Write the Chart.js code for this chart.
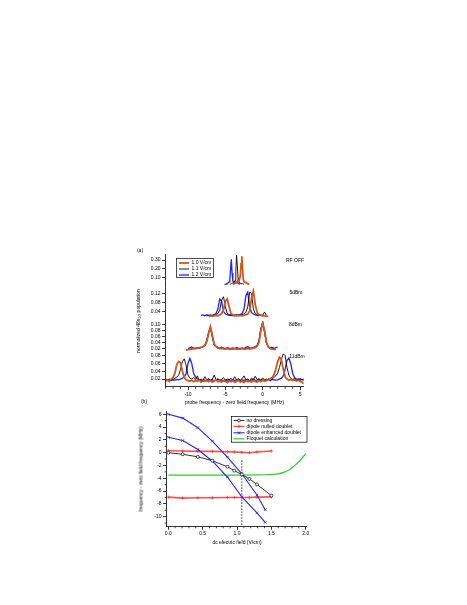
<!DOCTYPE html>
<html>
<head>
<meta charset="utf-8">
<script src="https://cdn.jsdelivr.net/npm/chart.js@4.4.0/dist/chart.umd.min.js"></script>
<style>
  html, body { margin: 0; padding: 0; background: #fff; }
  body { width: 467px; height: 605px; position: relative; overflow: hidden;
         font-family: 'Liberation Sans', Arial, sans-serif; color: #000; }
  canvas { position: absolute; }
  .lbl { position: absolute; font-size: 5px; line-height: 1; white-space: nowrap;
         transform: translate(-50%, -50%); }
  .rot { transform: translate(-50%, -50%) rotate(-90deg); }
  .lbl sub { font-size: 3.6px; vertical-align: -1px; }
  svg.legend { position: absolute; overflow: visible; }
  svg.legend text { font-size: 5px; font-family: 'Liberation Sans', Arial, sans-serif; }
</style>
</head>
<body>
<script>
/* (a) probe spectra at three dc fields, four RF powers */

const SERIES_LABELS = ['1.0 V/cm', '1.1 V/cm', '1.2 V/cm'];
const SERIES_COLORS = ['#d4581c', '#000000', '#1f23ff'];
const SERIES_WIDTHS = [1.8, 0.9, 1.3];

// RF OFF
const rfOffFreq = [-5.1,-5.0,-4.9,-4.8,-4.7,-4.6,-4.5,-4.4,-4.3,-4.2,-4.1,-4.0,-3.9,-3.8,-3.7,-3.6,-3.5,-3.4,
  -3.3,-3.2,-3.1,-3.0,-2.9,-2.8,-2.7,-2.6,-2.5,-2.4,-2.3,-2.2,-2.1,-2.0,-1.9,-1.8];
const rfOff10 = [null,null,null,null,null,null,null,null,null,null,null,0.02,0.025,0.03,0.035,0.04,0.05,0.06,
  0.07,0.065,0.08,0.12,0.26,0.345,0.2,0.08,0.05,0.045,0.04,0.04,0.035,0.03,0.028,0.025];
const rfOff11 = [null,null,null,null,null,null,null,0.022,0.025,0.03,0.035,0.035,0.04,0.045,0.07,0.17,0.355,0.24,
  0.09,0.05,0.04,0.035,0.03,0.03,0.028,0.025,0.022,null,null,null,null,null,null,null];
const rfOff12 = [0.02,0.022,0.025,0.03,0.035,0.04,0.05,0.08,0.2,0.31,0.15,0.06,0.05,0.045,0.05,0.04,0.045,0.04,
  0.035,0.03,0.028,0.025,null,null,null,null,null,null,null,null,null,null,null,null];

// 5 dBm
const dbm5Freq = [-8.25,-8,-7.75,-7.5,-7.25,-7,-6.75,-6.5,-6.25,-6,-5.75,-5.5,-5.25,-5,-4.75,-4.5,-4.25,-4,
  -3.75,-3.5,-3.25,-3,-2.75,-2.5,-2.25,-2,-1.75,-1.5,-1.25,-1,-0.75,-0.5,-0.25,0,0.25,0.5,0.75];
const dbm5_10 = [null,null,null,null,0.018,0.02,0.019,0.02,0.022,0.02,0.025,0.03,0.045,0.085,0.095,0.06,0.03,0.024,
  0.02,0.022,0.02,0.022,0.02,0.023,0.025,0.028,0.04,0.1,0.13,0.07,0.035,0.025,0.022,0.02,0.02,0.018,0.017];
const dbm5_11 = [null,null,null,0.02,0.022,0.021,0.023,0.022,0.025,0.03,0.045,0.09,0.105,0.06,0.03,0.025,0.022,0.022,
  0.024,0.02,0.022,0.024,0.025,0.028,0.035,0.06,0.125,0.12,0.05,0.03,0.025,0.022,0.024,0.022,0.037,0.021,null];
const dbm5_12 = [0.022,0.024,0.02,0.025,0.022,0.024,0.02,0.026,0.03,0.05,0.095,0.085,0.04,0.028,0.025,0.022,0.024,0.02,
  0.022,0.025,0.023,0.026,0.03,0.05,0.11,0.125,0.06,0.035,0.028,0.024,0.022,0.02,null,null,null,null,null];

// 8 dBm
const dbm8Freq = [-10.5,-10.25,-10,-9.75,-9.5,-9.25,-9,-8.75,-8.5,-8.25,-8,-7.75,-7.5,-7.25,-7,-6.75,-6.5,-6.25,
  -6,-5.75,-5.5,-5.25,-5,-4.75,-4.5,-4.25,-4,-3.75,-3.5,-3.25,-3,-2.75,-2.5,-2.25,-2,-1.75,-1.5,-1.25,-1,-0.75,
  -0.5,-0.25,0,0.25,0.5,0.75,1,1.25,1.5,1.75,2];
const dbm8_10 = [null,0.015,0.016,0.017,0.018,0.02,0.019,0.021,0.022,0.024,0.026,0.03,0.042,0.07,0.093,0.065,0.035,
  0.026,0.022,0.02,0.021,0.019,0.018,0.02,0.017,0.019,0.018,0.02,0.017,0.019,0.018,0.02,0.018,0.019,0.02,0.018,0.02,
  0.021,0.023,0.028,0.04,0.08,0.105,0.08,0.04,0.025,0.02,0.018,0.017,0.018,null];
const dbm8_11 = [null,null,null,0.018,0.02,0.019,0.021,0.02,0.022,0.023,0.025,0.03,0.045,0.072,0.09,0.06,0.033,
  0.025,0.021,0.02,0.019,0.021,0.018,0.02,0.019,0.018,0.02,0.019,0.021,0.018,0.02,0.019,0.02,0.018,0.021,0.019,0.02,
  0.022,0.024,0.03,0.045,0.085,0.11,0.075,0.038,0.024,0.02,0.019,0.02,null,null];
const dbm8_12 = [null,null,0.02,0.022,0.025,0.021,0.02,0.023,0.021,0.024,0.026,0.03,0.045,0.07,0.09,0.062,0.033,
  0.027,0.024,0.022,0.024,0.021,0.02,0.023,0.021,0.02,0.022,0.02,0.023,0.021,0.02,0.022,0.02,0.024,0.026,0.022,0.021,
  0.023,0.026,0.03,0.045,0.085,0.103,0.075,0.04,0.026,0.022,0.024,0.02,0.023,0.025];

// 11 dBm
const dbm11Freq = [-13,-12.75,-12.5,-12.25,-12,-11.75,-11.5,-11.25,-11,-10.75,-10.5,-10.25,-10,-9.75,-9.5,-9.25,
  -9,-8.75,-8.5,-8.25,-8,-7.75,-7.5,-7.25,-7,-6.75,-6.5,-6.25,-6,-5.75,-5.5,-5.25,-5,-4.75,-4.5,-4.25,-4,-3.75,
  -3.5,-3.25,-3,-2.75,-2.5,-2.25,-2,-1.75,-1.5,-1.25,-1,-0.75,-0.5,-0.25,0,0.25,0.5,0.75,1,1.25,1.5,1.75,2,2.25,
  2.5,2.75,3,3.25,3.5,3.75,4,4.25,4.5,4.75,5,5.25,5.5];
const dbm11_10 = [0.015,0.018,0.014,0.02,0.024,0.035,0.058,0.065,0.062,0.04,
  0.024,0.018,0.016,0.014,0.017,0.013,0.016,0.014,0.017,0.012,
  0.015,0.014,0.017,0.013,0.016,0.012,0.015,0.018,0.013,0.015,
  0.012,0.016,0.014,0.011,0.015,0.013,0.016,0.012,0.014,0.017,
  0.012,0.015,0.011,0.016,0.013,0.015,0.012,0.016,0.014,0.012,
  0.016,0.013,0.017,0.014,0.016,0.018,0.02,0.024,0.03,0.045,
  0.065,0.076,0.07,0.045,0.026,0.02,0.017,0.019,0.016,0.018,
  0.015,0.017,0.014,0.012,0.008];
const dbm11_11 = [0.018,0.015,0.02,0.017,0.019,0.022,0.025,0.03,0.045,0.065,
  0.072,0.055,0.03,0.022,0.02,0.024,0.018,0.028,0.017,0.02,
  0.016,0.026,0.018,0.021,0.017,0.019,0.03,0.018,0.02,0.016,
  0.019,0.024,0.017,0.02,0.018,0.022,0.016,0.026,0.018,0.02,
  0.017,0.021,0.028,0.018,0.02,0.016,0.022,0.018,0.027,0.019,
  0.021,0.017,0.023,0.018,0.02,0.017,0.022,0.02,0.024,0.028,
  0.035,0.05,0.07,0.085,0.08,0.05,0.03,0.022,0.019,0.021,
  0.018,0.02,0.017,0.019,0.016];
const dbm11_12 = [0.02,0.017,0.019,0.016,0.018,0.017,0.019,0.018,0.02,0.022,
  0.025,0.035,0.06,0.073,0.06,0.035,0.025,0.02,0.018,0.016,
  0.018,0.017,0.015,0.019,0.016,0.018,0.015,0.017,0.02,0.016,
  0.018,0.015,0.017,0.016,0.019,0.015,0.018,0.016,0.017,0.02,
  0.015,0.018,0.016,0.019,0.017,0.015,0.018,0.02,0.016,0.017,
  0.019,0.016,0.018,0.015,0.017,0.02,0.016,0.019,0.018,0.017,
  0.018,0.02,0.022,0.028,0.045,0.068,0.074,0.06,0.035,0.024,
  0.02,0.019,0.021,0.018,0.02];

const PANEL_NAMES = ['RF OFF', '5dBm', '8dBm', '11dBm'];
const rfOffTicks = [0.10, 0.20, 0.30];
const dbm5Ticks = [0.04, 0.08, 0.12];
const dbm8Ticks = [0.02, 0.04, 0.06, 0.08, 0.10];
const dbm11Ticks = [0.02, 0.04, 0.06, 0.08];
const freqTicks = [-10, -5, 0, 5];

/* (b) doublet positions vs dc field */
const fieldMeasured = [0, 0.21, 0.43, 0.64, 0.86, 0.96, 1.07, 1.18, 1.29, 1.50];
const noDressing = [0, -0.25, -0.65, -1.25, -2.2, -2.8, -3.4, -4.1, -4.95, -6.7];
const nulledUpper = [0.3, 0.25, 0.2, 0.2, 0.15, 0.1, 0.05, 0.0, 0.1, 0.25];
const nulledLower = [-6.95, -7.1, -7.05, -7.05, -7.0, -7.0, -7.0, -7.0, -6.95, -6.9];
const fieldEnhanced = [0, 0.21, 0.43, 0.64, 0.86, 1.07, 1.29, 1.41];
const enhancedUpper = [6.0, 5.4, 3.9, 1.8, -0.7, -3.3, -6.6, -8.9];
const enhancedLower = [2.4, 1.9, 0.5, -1.3, -3.8, -6.9, -9.4, -10.9];
const floquetField = [0, 0.25, 0.5, 0.75, 1.0, 1.25, 1.4, 1.5, 1.6, 1.7, 1.75, 1.8, 1.85, 1.9, 1.95, 2.0];
const floquetFreq = [-3.5, -3.5, -3.5, -3.5, -3.5, -3.48, -3.45, -3.4, -3.3, -3.0, -2.75, -2.35, -1.9, -1.4, -0.8, -0.15];
const resonanceField = [1.07, 1.07];
const resonanceFreq = [-1.2, -11.5];
const fieldTicks = [0, 0.5, 1.0, 1.5, 2.0];
const freqBTicks = [-10, -8, -6, -4, -2, 0, 2, 4, 6];
const B_LABELS = ['no dressing', 'dipole nulled doublet', 'dipole enhanced doublet', 'Floquet calculation'];

const FONT = "'Liberation Sans', Arial, sans-serif";
const RED = 'rgba(255,40,40,0.8)';
const BLUE = '#2424ff';
const GREEN = '#2ad12a';

// page geometry (px)
const A_LEFT = 120, A_WIDTH = 190, A_AXIS = 165.6, A_RIGHT = 303.8;
const aPanels = [
  { freq: rfOffFreq, ys: [rfOff10, rfOff11, rfOff12], ticks: rfOffTicks, min: 0, max: 0.36, top: 254.9, bottom: 286.2 },
  { freq: dbm5Freq, ys: [dbm5_10, dbm5_11, dbm5_12], ticks: dbm5Ticks, min: 0, max: 0.145, top: 287.7, bottom: 320.3 },
  { freq: dbm8Freq, ys: [dbm8_10, dbm8_11, dbm8_12], ticks: dbm8Ticks, min: 0.008, max: 0.112, top: 320.9, bottom: 352.1 },
  { freq: dbm11Freq, ys: [dbm11_10, dbm11_11, dbm11_12], ticks: dbm11Ticks, min: 0, max: 0.087, top: 353.0, bottom: 386.8 }
];
const panelLabelPos = [[295, 260], [296, 292], [295.5, 324], [297, 355.5]];

function makeCanvas(left, top, w, h) {
  const c = document.createElement('canvas');
  c.width = w; c.height = h;
  c.style.left = left + 'px'; c.style.top = top + 'px';
  c.style.width = w + 'px'; c.style.height = h + 'px';
  document.body.appendChild(c);
  return c;
}

function addText(html, x, y, cls) {
  const d = document.createElement('div');
  d.className = 'lbl' + (cls ? ' ' + cls : '');
  d.innerHTML = html;
  d.style.left = x + 'px'; d.style.top = y + 'px';
  document.body.appendChild(d);
}

// short unlabelled ticks between the labelled ones
function minorTicks(spec) {
  return {
    id: 'minorTicks',
    afterDraw(chart) {
      const ctx = chart.ctx;
      ctx.save();
      ctx.strokeStyle = '#000';
      ctx.lineWidth = 0.7;
      for (const id in spec) {
        const s = chart.scales[id];
        for (const v of spec[id]) {
          const p = s.getPixelForValue(v);
          ctx.beginPath();
          if (s.isHorizontal()) { ctx.moveTo(p, s.top); ctx.lineTo(p, s.top + 2); }
          else { ctx.moveTo(s.right, p); ctx.lineTo(s.right - 2, p); }
          ctx.stroke();
        }
      }
      ctx.restore();
    }
  };
}

function axisStyle(extra) {
  return Object.assign({
    border: { display: true, color: '#000', width: 0.8 },
    grid: { drawOnChartArea: false, drawTicks: true, tickLength: 3.5, tickColor: '#000', tickWidth: 0.8 },
  }, extra);
}

Chart.defaults.font.family = FONT;
Chart.defaults.color = '#000';

aPanels.forEach((p, i) => {
  const isBottom = i === aPanels.length - 1;
  const axisH = isBottom ? 12 : 0;
  const top = Math.floor(p.top) - 7;
  const h = Math.ceil(p.bottom) + 7 + axisH - top;
  const canvas = makeCanvas(A_LEFT, top, A_WIDTH, h);

  const datasets = p.ys.map((ys, k) => ({
    label: SERIES_LABELS[k],
    data: p.freq.map((f, j) => ({ x: f, y: ys[j] })).filter(d => d.y !== null),
    borderColor: SERIES_COLORS[k],
    borderWidth: SERIES_WIDTHS[k],
    pointRadius: 0,
    fill: false
  }));

  const minorFreq = [];
  for (let f = -13; f <= 5; f++) if (f % 5 !== 0) minorFreq.push(f);

  new Chart(canvas, {
    type: 'line',
    data: { datasets },
    options: {
      responsive: false, animation: false, events: [],
      layout: { padding: { left: 0, right: A_WIDTH - (A_RIGHT - A_LEFT), top: p.top - top, bottom: top + h - p.bottom - axisH } },
      plugins: { legend: { display: false }, tooltip: { enabled: false } },
      scales: {
        x: axisStyle({
          type: 'linear', min: -13, max: 5.5, display: isBottom,
          afterBuildTicks: s => { s.ticks = freqTicks.map(v => ({ value: v })); },
          afterFit: s => { s.height = axisH; },
          ticks: { font: { size: 5 }, padding: 1.2, maxRotation: 0, autoSkip: false, callback: v => String(v) }
        }),
        y: axisStyle({
          min: p.min, max: p.max,
          afterBuildTicks: s => { s.ticks = p.ticks.map(v => ({ value: v })); },
          afterFit: s => { s.width = A_AXIS - A_LEFT; },
          ticks: { font: { size: 5 }, padding: 1.5, autoSkip: false, callback: v => v.toFixed(2) }
        })
      }
    },
    plugins: isBottom ? [minorTicks({ x: minorFreq })] : []
  });

  addText(PANEL_NAMES[i], panelLabelPos[i][0], panelLabelPos[i][1]);
});

addText('(a)', 140, 250);
addText('normalized 48s<sub>1/2</sub> population', 139, 321, 'rot');
addText('probe frequency - zero field frequency (MHz)', 234.7, 401.5);

// legend (a)
(function () {
  const rows = SERIES_LABELS.map((lab, k) => {
    const y = 5 + k * 6;
    return `<line x1="3" x2="13" y1="${y}" y2="${y}" stroke="${SERIES_COLORS[k]}" stroke-width="${SERIES_WIDTHS[k]}"/>` +
      `<text x="15.5" y="${y}" dominant-baseline="middle">${lab}</text>`;
  }).join('');
  document.body.insertAdjacentHTML('beforeend',
    `<svg class="legend" style="left:175.5px;top:258px" width="38" height="20">` +
    `<rect x="0.5" y="0.5" width="37" height="19" fill="#fff" stroke="#000" stroke-width="0.7"/>${rows}</svg>`);
})();

/* ---- panel (b) ---- */
const B_LEFT = 120, B_TOP = 406, B_WIDTH = 195, B_HEIGHT = 136;
const B_AXIS_X = 166.6, B_RIGHT = 306.4, B_PLOT_TOP = 411.7, B_PLOT_BOTTOM = 526.3, B_AXIS_H = 12;

function pts(xs, ys) { return xs.map((x, i) => ({ x, y: ys[i] })); }

const minorField = [];
for (let k = 1; k < 20; k++) if (k % 5 !== 0) minorField.push(k / 10);
const minorFreqB = [];
for (let v = -11; v <= 5; v += 2) minorFreqB.push(v);

new Chart(makeCanvas(B_LEFT, B_TOP, B_WIDTH, B_HEIGHT), {
  type: 'line',
  data: {
    datasets: [
      { label: B_LABELS[0], data: pts(fieldMeasured, noDressing), borderColor: '#000', borderWidth: 0.8,
        pointStyle: 'circle', pointRadius: 1.5, pointBackgroundColor: '#fff', pointBorderColor: '#000', pointBorderWidth: 0.7 },
      { label: B_LABELS[2], data: pts(fieldEnhanced, enhancedUpper), borderColor: BLUE, borderWidth: 1.1,
        pointStyle: 'crossRot', pointRadius: 1.8, pointBorderColor: BLUE, pointBorderWidth: 0.8 },
      { label: B_LABELS[2], data: pts(fieldEnhanced, enhancedLower), borderColor: BLUE, borderWidth: 1.1,
        pointStyle: 'crossRot', pointRadius: 1.8, pointBorderColor: BLUE, pointBorderWidth: 0.8 },
      { label: B_LABELS[1], data: pts(fieldMeasured, nulledUpper), borderColor: RED, borderWidth: 1.6,
        pointStyle: 'cross', pointRadius: 1.8, pointBorderColor: RED, pointBorderWidth: 0.8 },
      { label: B_LABELS[1], data: pts(fieldMeasured, nulledLower), borderColor: RED, borderWidth: 1.6,
        pointStyle: 'cross', pointRadius: 1.8, pointBorderColor: RED, pointBorderWidth: 0.8 },
      { label: B_LABELS[3], data: pts(floquetField, floquetFreq), borderColor: GREEN, borderWidth: 1.2,
        pointRadius: 0, cubicInterpolationMode: 'monotone' },
      { label: 'resonance', data: pts(resonanceField, resonanceFreq), borderColor: '#000', borderWidth: 0.8,
        borderDash: [1.5, 1.5], pointRadius: 0 }
    ]
  },
  options: {
    responsive: false, animation: false, events: [],
    layout: { padding: { left: 0, right: B_WIDTH - (B_RIGHT - B_LEFT), top: B_PLOT_TOP - B_TOP,
      bottom: B_TOP + B_HEIGHT - B_PLOT_BOTTOM - B_AXIS_H } },
    plugins: { legend: { display: false }, tooltip: { enabled: false } },
    scales: {
      x: axisStyle({
        type: 'linear', min: -0.025, max: 2.01,
        afterBuildTicks: s => { s.ticks = fieldTicks.map(v => ({ value: v })); },
        afterFit: s => { s.height = B_AXIS_H; },
        ticks: { font: { size: 5 }, padding: 1.2, maxRotation: 0, autoSkip: false, callback: v => v.toFixed(1) }
      }),
      y: axisStyle({
        min: -11.5, max: 6.4,
        afterBuildTicks: s => { s.ticks = freqBTicks.map(v => ({ value: v })); },
        afterFit: s => { s.width = B_AXIS_X - B_LEFT; },
        ticks: { font: { size: 5 }, padding: 1.5, autoSkip: false, callback: v => String(v) }
      })
    }
  },
  plugins: [minorTicks({ x: minorField, y: minorFreqB })]
});

addText('(b)', 144, 401);
addText('frequency - zero field frequency (MHz)', 140.5, 469, 'rot');
addText('dc electric field (V/cm)', 237, 542);

// legend (b)
(function () {
  const colors = ['#000', RED, BLUE, GREEN];
  const ys = [4.5, 10.5, 16.8, 22.8];
  const marks = [
    y => `<circle cx="8" cy="${y}" r="1.4" fill="#fff" stroke="#000" stroke-width="0.7"/>`,
    y => `<path d="M6.2 ${y}H9.8M8 ${y - 1.8}V${y + 1.8}" stroke="${RED}" stroke-width="0.8"/>`,
    y => `<path d="M6.7 ${y - 1.3}L9.3 ${y + 1.3}M6.7 ${y + 1.3}L9.3 ${y - 1.3}" stroke="${BLUE}" stroke-width="0.8"/>`,
    () => ''
  ];
  const widths = [0.8, 1.6, 1.1, 1.2];
  const rows = B_LABELS.map((lab, k) =>
    `<line x1="2.5" x2="13.5" y1="${ys[k]}" y2="${ys[k]}" stroke="${colors[k]}" stroke-width="${widths[k]}"/>` +
    marks[k](ys[k]) +
    `<text x="15.5" y="${ys[k]}" dominant-baseline="middle">${lab}</text>`).join('');
  document.body.insertAdjacentHTML('beforeend',
    `<svg class="legend" style="left:230.5px;top:415.5px" width="77" height="27">` +
    `<rect x="0.5" y="0.5" width="75.5" height="25.7" fill="#fff" stroke="#000" stroke-width="0.7"/>${rows}</svg>`);
})();
</script>
</body>
</html>
